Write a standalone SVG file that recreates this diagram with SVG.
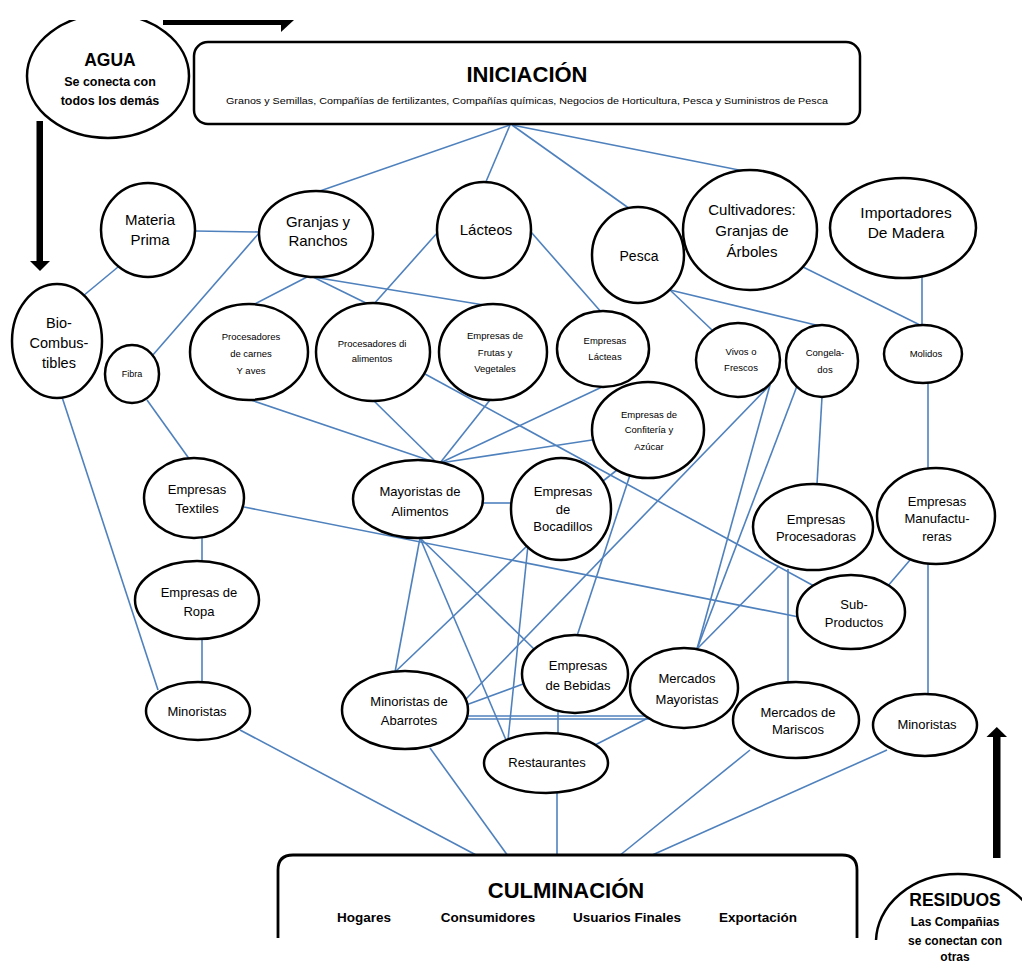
<svg xmlns="http://www.w3.org/2000/svg" width="1022" height="965" viewBox="0 0 1022 965">
<style>
.n{fill:#fff;stroke:#000;stroke-width:2.5}
.c line{stroke:#4f81bd;stroke-width:1.6}
text{font-family:"Liberation Sans",Arial,sans-serif;text-anchor:middle;fill:#000}
.lg{font-size:15px}
.md{font-size:13px}
.sm{font-size:9.5px}
.b{font-weight:bold}
</style>
<defs>
<clipPath id="top"><rect x="0" y="20" width="1022" height="945"/></clipPath>
<clipPath id="bot"><rect x="0" y="0" width="1022" height="940"/></clipPath>
</defs>
<rect width="1022" height="965" fill="#fff"/>
<g id="arrows" fill="#000">
<g clip-path="url(#top)"><rect x="163" y="16" width="120" height="9"/><polygon points="281,8 294,20 281,32"/></g>
<rect x="36.5" y="121" width="6.5" height="141"/><polygon points="30,261 50,261 40,271"/>
<rect x="993" y="736" width="7.5" height="122"/><polygon points="986.5,737 1007,737 996.8,727"/>
</g>
<g id="connectors" class="c">
<line x1="510" y1="125" x2="317" y2="192"/>
<line x1="510" y1="125" x2="485" y2="184"/>
<line x1="512" y1="125" x2="630" y2="209"/>
<line x1="512" y1="125" x2="749" y2="172"/>
<line x1="195" y1="231" x2="260" y2="232"/>
<line x1="118" y1="267" x2="83" y2="296"/>
<line x1="260" y1="232" x2="152" y2="356"/>
<line x1="307" y1="277" x2="251" y2="306"/>
<line x1="313" y1="277" x2="370" y2="305"/>
<line x1="313" y1="277" x2="490" y2="306"/>
<line x1="438" y1="232" x2="373" y2="305"/>
<line x1="531" y1="232" x2="602" y2="313"/>
<line x1="670" y1="290" x2="712" y2="330"/>
<line x1="670" y1="290" x2="820" y2="326"/>
<line x1="803" y1="267" x2="922" y2="326"/>
<line x1="922" y1="277" x2="922" y2="326"/>
<line x1="147" y1="400" x2="190" y2="460"/>
<line x1="62" y1="397" x2="158" y2="690"/>
<line x1="202" y1="537" x2="202" y2="562"/>
<line x1="202" y1="638" x2="202" y2="684"/>
<line x1="244" y1="507" x2="799" y2="617"/>
<line x1="245" y1="398" x2="437" y2="463"/>
<line x1="373" y1="400" x2="437" y2="463"/>
<line x1="490" y1="400" x2="440" y2="463"/>
<line x1="602" y1="387" x2="440" y2="463"/>
<line x1="592" y1="440" x2="440" y2="463"/>
<line x1="425" y1="374" x2="814" y2="586"/>
<line x1="483" y1="503" x2="511" y2="503"/>
<line x1="617" y1="470" x2="603" y2="481"/>
<line x1="630" y1="475" x2="577" y2="636"/>
<line x1="770" y1="385" x2="466" y2="699"/>
<line x1="770" y1="385" x2="697" y2="649"/>
<line x1="797" y1="386" x2="697" y2="649"/>
<line x1="822" y1="397" x2="817" y2="484"/>
<line x1="928" y1="383" x2="928" y2="469"/>
<line x1="910" y1="560" x2="887" y2="587"/>
<line x1="928" y1="564" x2="928" y2="695"/>
<line x1="788" y1="569" x2="788" y2="683"/>
<line x1="779" y1="566" x2="697" y2="649"/>
<line x1="420" y1="538" x2="395" y2="672"/>
<line x1="420" y1="538" x2="506" y2="740"/>
<line x1="420" y1="538" x2="534" y2="649"/>
<line x1="528" y1="545" x2="395" y2="672"/>
<line x1="528" y1="545" x2="508" y2="740"/>
<line x1="466" y1="705" x2="523" y2="684"/>
<line x1="466" y1="716" x2="652" y2="716"/>
<line x1="466" y1="719" x2="652" y2="719"/>
<line x1="558" y1="712" x2="558" y2="735"/>
<line x1="648" y1="718" x2="595" y2="745"/>
<line x1="240" y1="730" x2="478" y2="856"/>
<line x1="430" y1="748" x2="508" y2="856"/>
<line x1="557" y1="792" x2="557" y2="856"/>
<line x1="750" y1="750" x2="619" y2="856"/>
<line x1="887" y1="750" x2="650" y2="856"/>
</g>
<g id="agua"><ellipse class="n" cx="108" cy="76" rx="81" ry="62" clip-path="url(#top)"/>
<text x="110" y="66" class="b" font-size="17.5">AGUA</text>
<text x="110" y="86" class="b" font-size="12.5">Se conecta con</text>
<text x="110" y="105" class="b" font-size="12.5">todos los demás</text></g>
<g id="iniciacion"><rect class="n" x="194" y="42" width="666" height="82" rx="14" stroke-width="2.8"/>
<text x="527" y="82" class="b" font-size="22">INICIACIÓN</text>
<text x="527" y="104" font-size="9" textLength="602" lengthAdjust="spacingAndGlyphs">Granos y Semillas, Compañías de fertilizantes, Compañías químicas, Negocios de Horticultura, Pesca y Suministros de Pesca</text></g>
<g id="materia"><ellipse class="n" cx="148" cy="230" rx="47" ry="47"/><text x="150" y="225" class="lg">Materia</text><text x="150" y="245" class="lg">Prima</text></g>
<g id="granjas"><ellipse class="n" cx="316" cy="234" rx="57" ry="43"/><text x="318" y="227" class="lg">Granjas y</text><text x="318" y="246" class="lg">Ranchos</text></g>
<g id="bio"><ellipse class="n" cx="57" cy="341" rx="45" ry="57"/><text x="59" y="328" font-size="14.5">Bio-</text><text x="59" y="348" font-size="14.5">Combus-</text><text x="59" y="368" font-size="14.5">tibles</text></g>
<g id="fibra"><ellipse class="n" cx="132" cy="374" rx="27" ry="29"/><text x="132" y="377" font-size="9">Fibra</text></g>
<g id="carnes"><ellipse class="n" cx="249" cy="352" rx="59" ry="48"/><text x="251" y="340" class="sm">Procesadores</text><text x="251" y="357" class="sm">de carnes</text><text x="251" y="374" class="sm">Y aves</text></g>
<g id="procalimentos"><ellipse class="n" cx="373" cy="352" rx="57" ry="49"/><text x="372" y="347" class="sm">Procesadores di</text><text x="372" y="362" class="sm">alimentos</text></g>
<g id="lacteos"><ellipse class="n" cx="484" cy="230" rx="47" ry="48"/><text x="486" y="235" class="lg">Lácteos</text></g>
<g id="pesca"><ellipse class="n" cx="638" cy="255" rx="46" ry="48"/><text x="639" y="261" font-size="14">Pesca</text></g>
<g id="frutas"><ellipse class="n" cx="493" cy="352" rx="54" ry="48"/><text x="495" y="339" class="sm">Empresas de</text><text x="495" y="356" class="sm">Frutas y</text><text x="495" y="372" class="sm">Vegetales</text></g>
<g id="emplacteas"><ellipse class="n" cx="603" cy="349" rx="46" ry="38"/><text x="605" y="344" class="sm">Empresas</text><text x="605" y="360" class="sm">Lácteas</text></g>
<g id="cultivadores"><ellipse class="n" cx="750" cy="230" rx="67" ry="60"/><text x="752" y="215" class="lg">Cultivadores:</text><text x="752" y="236" class="lg">Granjas de</text><text x="752" y="257" class="lg">Árboles</text></g>
<g id="importadores"><ellipse class="n" cx="903" cy="228" rx="73" ry="50"/><text x="906" y="218" font-size="15.5">Importadores</text><text x="906" y="238" font-size="15.5">De Madera</text></g>
<g id="vivos"><ellipse class="n" cx="738" cy="360" rx="42" ry="37"/><text x="741" y="355" class="sm">Vivos o</text><text x="741" y="371" class="sm">Frescos</text></g>
<g id="congelados"><ellipse class="n" cx="822" cy="361" rx="36" ry="36"/><text x="825" y="356" class="sm">Congela-</text><text x="825" y="373" class="sm">dos</text></g>
<g id="molidos"><ellipse class="n" cx="923" cy="354" rx="39" ry="29"/><text x="926" y="357" class="sm">Molidos</text></g>
<g id="textiles"><ellipse class="n" cx="194" cy="498" rx="50" ry="40"/><text x="197" y="494" class="md">Empresas</text><text x="197" y="513" class="md">Textiles</text></g>
<g id="ropa"><ellipse class="n" cx="197" cy="600" rx="62" ry="39"/><text x="199" y="597" class="md">Empresas de</text><text x="199" y="616" class="md">Ropa</text></g>
<g id="mayoristas"><ellipse class="n" cx="418" cy="499" rx="65" ry="39"/><text x="420" y="496" class="md">Mayoristas de</text><text x="420" y="516" class="md">Alimentos</text></g>
<g id="bocadillos"><ellipse class="n" cx="561" cy="509" rx="50" ry="51"/><text x="563" y="496" class="md">Empresas</text><text x="563" y="514" class="md">de</text><text x="563" y="531" class="md">Bocadillos</text></g>
<g id="confiteria"><ellipse class="n" cx="648" cy="430" rx="56" ry="48"/><text x="649" y="418" class="sm">Empresas de</text><text x="649" y="433" class="sm">Confitería y</text><text x="649" y="450" class="sm">Azúcar</text></g>
<g id="bebidas"><ellipse class="n" cx="575" cy="674" rx="53" ry="39"/><text x="578" y="670" class="md">Empresas</text><text x="578" y="690" class="md">de Bebidas</text></g>
<g id="mercadosmay"><ellipse class="n" cx="684" cy="688" rx="54" ry="40"/><text x="687" y="683" class="md">Mercados</text><text x="687" y="704" class="md">Mayoristas</text></g>
<g id="abarrotes"><ellipse class="n" cx="405" cy="710" rx="63" ry="39"/><text x="409" y="706" class="md">Minoristas de</text><text x="409" y="725" class="md">Abarrotes</text></g>
<g id="restaurantes"><ellipse class="n" cx="546" cy="763" rx="62" ry="30"/><text x="547" y="767" class="md">Restaurantes</text></g>
<g id="minoristasL"><ellipse class="n" cx="198" cy="711" rx="52" ry="29"/><text x="197" y="716" class="md">Minoristas</text></g>
<g id="procesadoras"><ellipse class="n" cx="813" cy="527" rx="60" ry="43"/><text x="816" y="524" class="md">Empresas</text><text x="816" y="541" class="md">Procesadoras</text></g>
<g id="manufactureras"><ellipse class="n" cx="936" cy="516" rx="59" ry="48"/><text x="937" y="506" class="md">Empresas</text><text x="937" y="523" class="md">Manufactu-</text><text x="937" y="541" class="md">reras</text></g>
<g id="subproductos"><ellipse class="n" cx="851" cy="612" rx="54" ry="37"/><text x="854" y="609" class="md">Sub-</text><text x="854" y="627" class="md">Productos</text></g>
<g id="mariscos"><ellipse class="n" cx="796" cy="720" rx="63" ry="38"/><text x="798" y="717" class="md">Mercados de</text><text x="798" y="734" class="md">Mariscos</text></g>
<g id="minoristasR"><ellipse class="n" cx="925" cy="725" rx="52" ry="31"/><text x="927" y="729" class="md">Minoristas</text></g>
<g id="culminacion"><path d="M278,938 V870 Q278,855 293,855 H842 Q857,855 857,870 V938" fill="#fff" stroke="#000" stroke-width="2.8"/>
<text x="566" y="898" class="b" font-size="22">CULMINACIÓN</text>
<text x="364" y="922" class="b" font-size="13.5">Hogares</text>
<text x="488" y="922" class="b" font-size="13.5">Consumidores</text>
<text x="627" y="922" class="b" font-size="13.5">Usuarios Finales</text>
<text x="758" y="922" class="b" font-size="13.5">Exportación</text></g>
<g id="residuos"><ellipse class="n" cx="958" cy="942" rx="82" ry="68" clip-path="url(#bot)"/>
<text x="955" y="906" class="b" font-size="17.5">RESIDUOS</text>
<text x="955" y="926" class="b" font-size="12">Las Compañias</text>
<text x="955" y="945" class="b" font-size="12">se conectan con</text>
<text x="955" y="961" class="b" font-size="12">otras</text></g>
</svg>
